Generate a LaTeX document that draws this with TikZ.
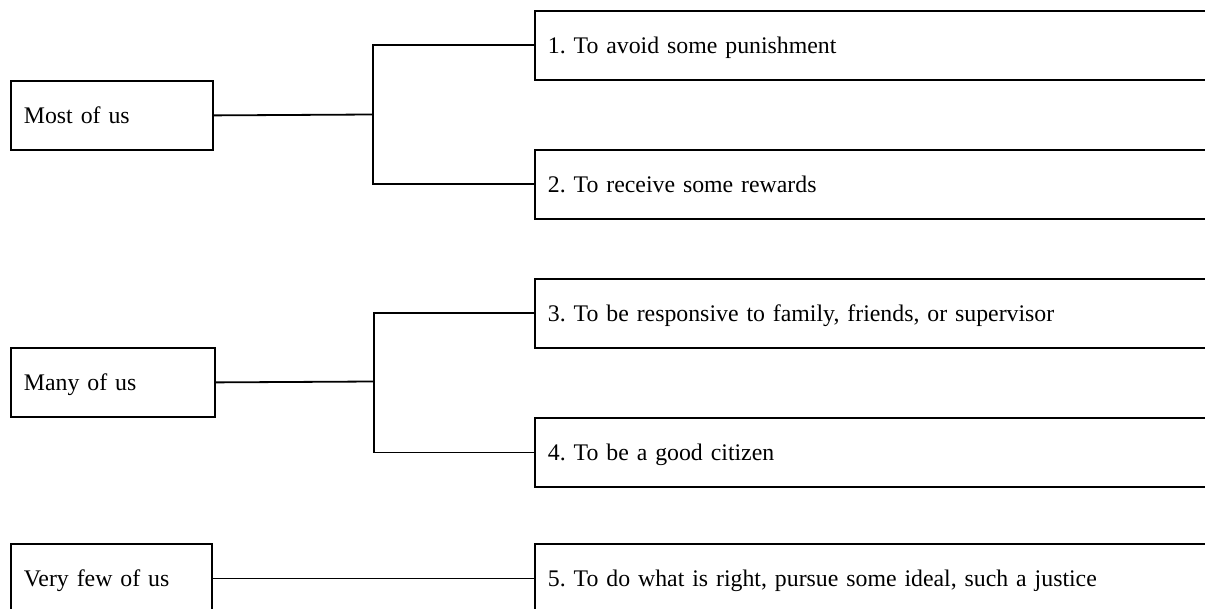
\documentclass[tikz,border=0pt]{standalone}
\usepackage{fontspec}
\setmainfont{Liberation Serif}
\begin{document}
\begin{tikzpicture}[x=1pt,y=-1pt,line width=1.8pt,
  box/.style={draw,rectangle,anchor=north west,minimum height=69pt,inner ysep=0pt,
    text height=16pt,text depth=0pt,
    align=left,font=\fontsize{23.8}{28}\selectfont\frenchspacing},
  lbox/.style={box,inner xsep=13pt,text width=#1-26pt},
  rbox/.style={box,inner xsep=13pt,text width=664pt},
  conn/.style={draw,line width=1.8pt}]
\useasboundingbox (0,0) rectangle (1205,609);
\clip (0,0) rectangle (1205,609);
\node[lbox=202pt] (most) at (10,80) {\mbox{Most of us}};
\node[rbox] (r1) at (534,10) {\mbox{1. To avoid some punishment}};
\node[rbox] (r2) at (534,149) {\mbox{2. To receive some rewards}};
\node[lbox=204pt] (many) at (10,347) {\mbox{Many of us}};
\node[rbox] (r3) at (534,278) {\mbox{3. To be responsive to family, friends, or supervisor}};
\node[rbox] (r4) at (534,417) {\mbox{4. To be a good citizen}};
\node[lbox=201pt] (few) at (10,543) {\mbox{Very few of us}};
\node[rbox] (r5) at (534,543) {\mbox{5. To do what is right, pursue some ideal, such a justice}};
\coordinate (j1) at (373,114.5);
\coordinate (j2) at (374,381.5);
\draw[conn] (most.east) -- (j1);
\draw[conn] (r1.west) -| (j1) |- (r2.west);
\draw[conn] (many.east) -- (j2);
\draw[conn] (r3.west) -| (j2) |- (r4.west);
\draw[conn] (few.east) -- (r5.west);
\end{tikzpicture}
\end{document}
